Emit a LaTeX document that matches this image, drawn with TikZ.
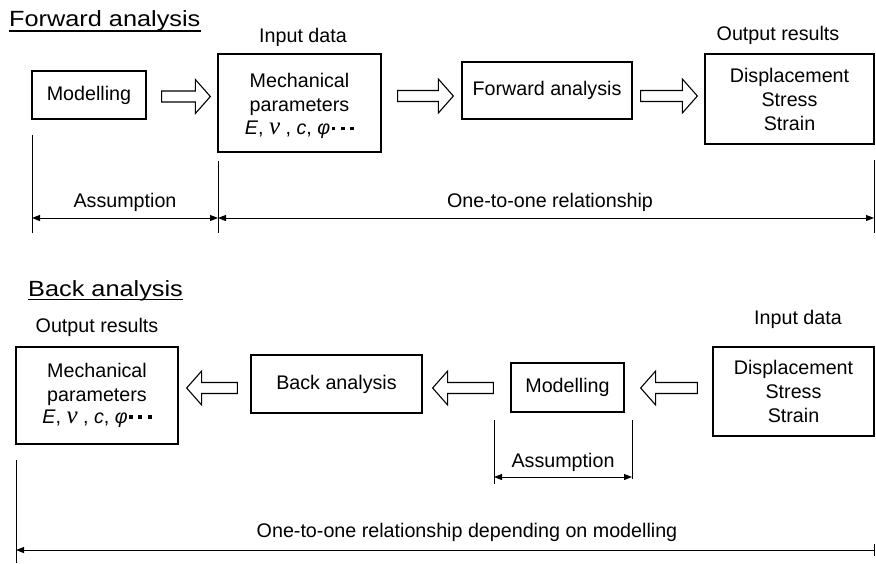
\documentclass[tikz,border=0pt]{standalone}
\usepackage{fontspec}
\usepackage{graphicx}
\setmainfont{Liberation Sans}
\newfontfamily\greekserif{Liberation Serif}
\usetikzlibrary{arrows.meta,calc}

\tikzset{
  box/.style={draw, line width=1.3pt, inner sep=0pt, align=center},
  lbl/.style={inner sep=0pt},
  title/.style={inner sep=0pt, anchor=base west, font=\fontsize{22}{26}\selectfont},
  uline/.style={line width=1.4pt},
  dimline/.style={line width=1pt},
  dimarrow/.style={line width=1pt, {Triangle[length=8pt,width=6pt]}-{Triangle[length=8pt,width=6pt]}},
  block arrow/.style={line width=1.1pt, to path={
    let \p1=(\tikztostart), \p2=(\tikztotarget),
        \n1={ifthenelse(\x2>\x1,1,-1)}, \n2={\x2-\n1*15pt} in
    ({\x1},{\y1+5.5pt}) -- ({\n2},{\y1+5.5pt}) -- ({\n2},{\y1+17pt})
    -- ({\x2},{\y1}) -- ({\n2},{\y1-17pt}) -- ({\n2},{\y1-5.5pt})
    -- ({\x1},{\y1-5.5pt}) -- cycle}}
}

% square dots following the parameter list
\newcommand{\sqdot}{\raisebox{4.5pt}{\rule{3.8pt}{3.8pt}}}
\newcommand{\params}{{\itshape E}, {\greekserif\itshape\fontsize{25}{24}\selectfont ν} , {\itshape c}, {\itshape φ}\hspace{1.5pt}\sqdot\hspace{5.5pt}\sqdot\hspace{5.5pt}\sqdot}

\begin{document}
\begin{tikzpicture}[x=1pt, y=-1pt, font=\fontsize{19.7}{24}\selectfont]
  \useasboundingbox (0,0) rectangle (876,563);

  % ---------------- Forward analysis ----------------
  \node[title] (ftitle) at (9,26.5) {\scalebox{1.15}[1]{Forward analysis}};
  \draw[uline] ([yshift=-4.5pt]ftitle.base west) -- ([yshift=-4.5pt]ftitle.base east);

  \node[box, minimum width=163pt, minimum height=98pt] (mech1) at (299.5,103)
    {\rule{0pt}{21pt}Mechanical\\parameters\\[-1pt]\params};
  \node[box, minimum width=114pt, minimum height=48pt] (mod1) at (89,95) {Modelling};
  \node[box, minimum width=170pt, minimum height=57pt] (fwd) at (547,90.5) {Forward analysis};
  \node[box, minimum width=169pt, minimum height=90pt] (out1) at (789.5,99)
    {Displacement\\Stress\\Strain};

  \node[lbl] (in1lbl) at (303,37) {Input data};
  \node[lbl] (out1lbl) at (778,35) {Output results};

  \coordinate (fa1) at ($(mod1.east)+(15,1.5)$);
  \coordinate (fa1t) at ($(mech1.west)+(-7,-6.5)$);
  \draw[block arrow] (fa1) to (fa1t);
  \coordinate (fa2) at ($(mech1.east)+(16,-7)$);
  \coordinate (fa2t) at ($(fwd.west)+(-8,0)$);
  \draw[block arrow] (fa2) to (fa2t);
  \coordinate (fa3) at ($(fwd.east)+(8,5.5)$);
  \coordinate (fa3t) at ($(out1.west)+(-7,-3)$);
  \draw[block arrow] (fa3) to (fa3t);

  % dimension lines
  \coordinate (fv1a) at (32,135);  \coordinate (fv1b) at (32,233);
  \coordinate (fv2a) at (218,161); \coordinate (fv2b) at (218,233);
  \coordinate (fv3a) at (874,160); \coordinate (fv3b) at (874,233);
  \draw[dimline] (fv1a) -- (fv1b);
  \draw[dimline] (fv2a) -- (fv2b);
  \draw[dimline] (fv3a) -- (fv3b);
  \coordinate (fd1) at (32,218); \coordinate (fd2) at (218,218); \coordinate (fd3) at (874,218);
  \draw[dimarrow] (fd1) -- (fd2);
  \draw[dimarrow] (fd2) -- (fd3);
  \node[lbl] (fass) at (125,202) {Assumption};
  \node[lbl] (fone) at (550,202) {One-to-one relationship};

  % ---------------- Back analysis ----------------
  \node[title] (btitle) at (28,296.5) {\scalebox{1.15}[1]{Back analysis}};
  \draw[uline] ([yshift=-3pt]btitle.base west) -- ([yshift=-3pt]btitle.base east);

  \node[lbl] (out2lbl) at (97,327) {Output results};
  \node[lbl] (in2lbl) at (798,319) {Input data};

  \node[box, minimum width=162pt, minimum height=97pt] (mech2) at (97,395.5)
    {Mechanical\\parameters\\[-2pt]\params};
  \node[box, minimum width=171pt, minimum height=58pt] (back) at (336.5,384) {Back analysis};
  \node[box, minimum width=113pt, minimum height=49pt] (mod2) at (567.5,387.5) {Modelling};
  \node[box, minimum width=161pt, minimum height=89pt] (in2) at (793.5,391.5)
    {Displacement\\Stress\\Strain};

  \coordinate (ba1) at ($(back.west)+(-13,4)$);
  \coordinate (ba1t) at ($(mech2.east)+(8,-7.5)$);
  \draw[block arrow] (ba1) to (ba1t);
  \coordinate (ba2) at ($(mod2.west)+(-17,0.5)$);
  \coordinate (ba2t) at ($(back.east)+(10,4)$);
  \draw[block arrow] (ba2) to (ba2t);
  \coordinate (ba3) at ($(in2.west)+(-15,-3.5)$);
  \coordinate (ba3t) at ($(mod2.east)+(16,0.5)$);
  \draw[block arrow] (ba3) to (ba3t);

  % dimension lines
  \coordinate (bv1a) at (494,420); \coordinate (bv1b) at (494,484);
  \coordinate (bv2a) at (632,420); \coordinate (bv2b) at (632,479);
  \draw[dimline] (bv1a) -- (bv1b);
  \draw[dimline] (bv2a) -- (bv2b);
  \coordinate (bd1) at (494,477); \coordinate (bd2) at (632,477);
  \draw[dimarrow] (bd1) -- (bd2);
  \node[lbl] (bass) at (563,462) {Assumption};

  \coordinate (bv3a) at (16,460); \coordinate (bv3b) at (16,563);
  \draw[dimline] (bv3a) -- (bv3b);
  \coordinate (bd3) at (16,550); \coordinate (bd4) at (874,550);
  \draw[dimline, {Triangle[length=8pt,width=6pt]}-] (bd3) -- (bd4);
  \coordinate (bt1) at (874,544); \coordinate (bt2) at (874,556);
  \draw[dimline] (bt1) -- (bt2);
  \node[lbl] (bone) at (467,532) {One-to-one relationship depending on modelling};
\end{tikzpicture}
\end{document}
